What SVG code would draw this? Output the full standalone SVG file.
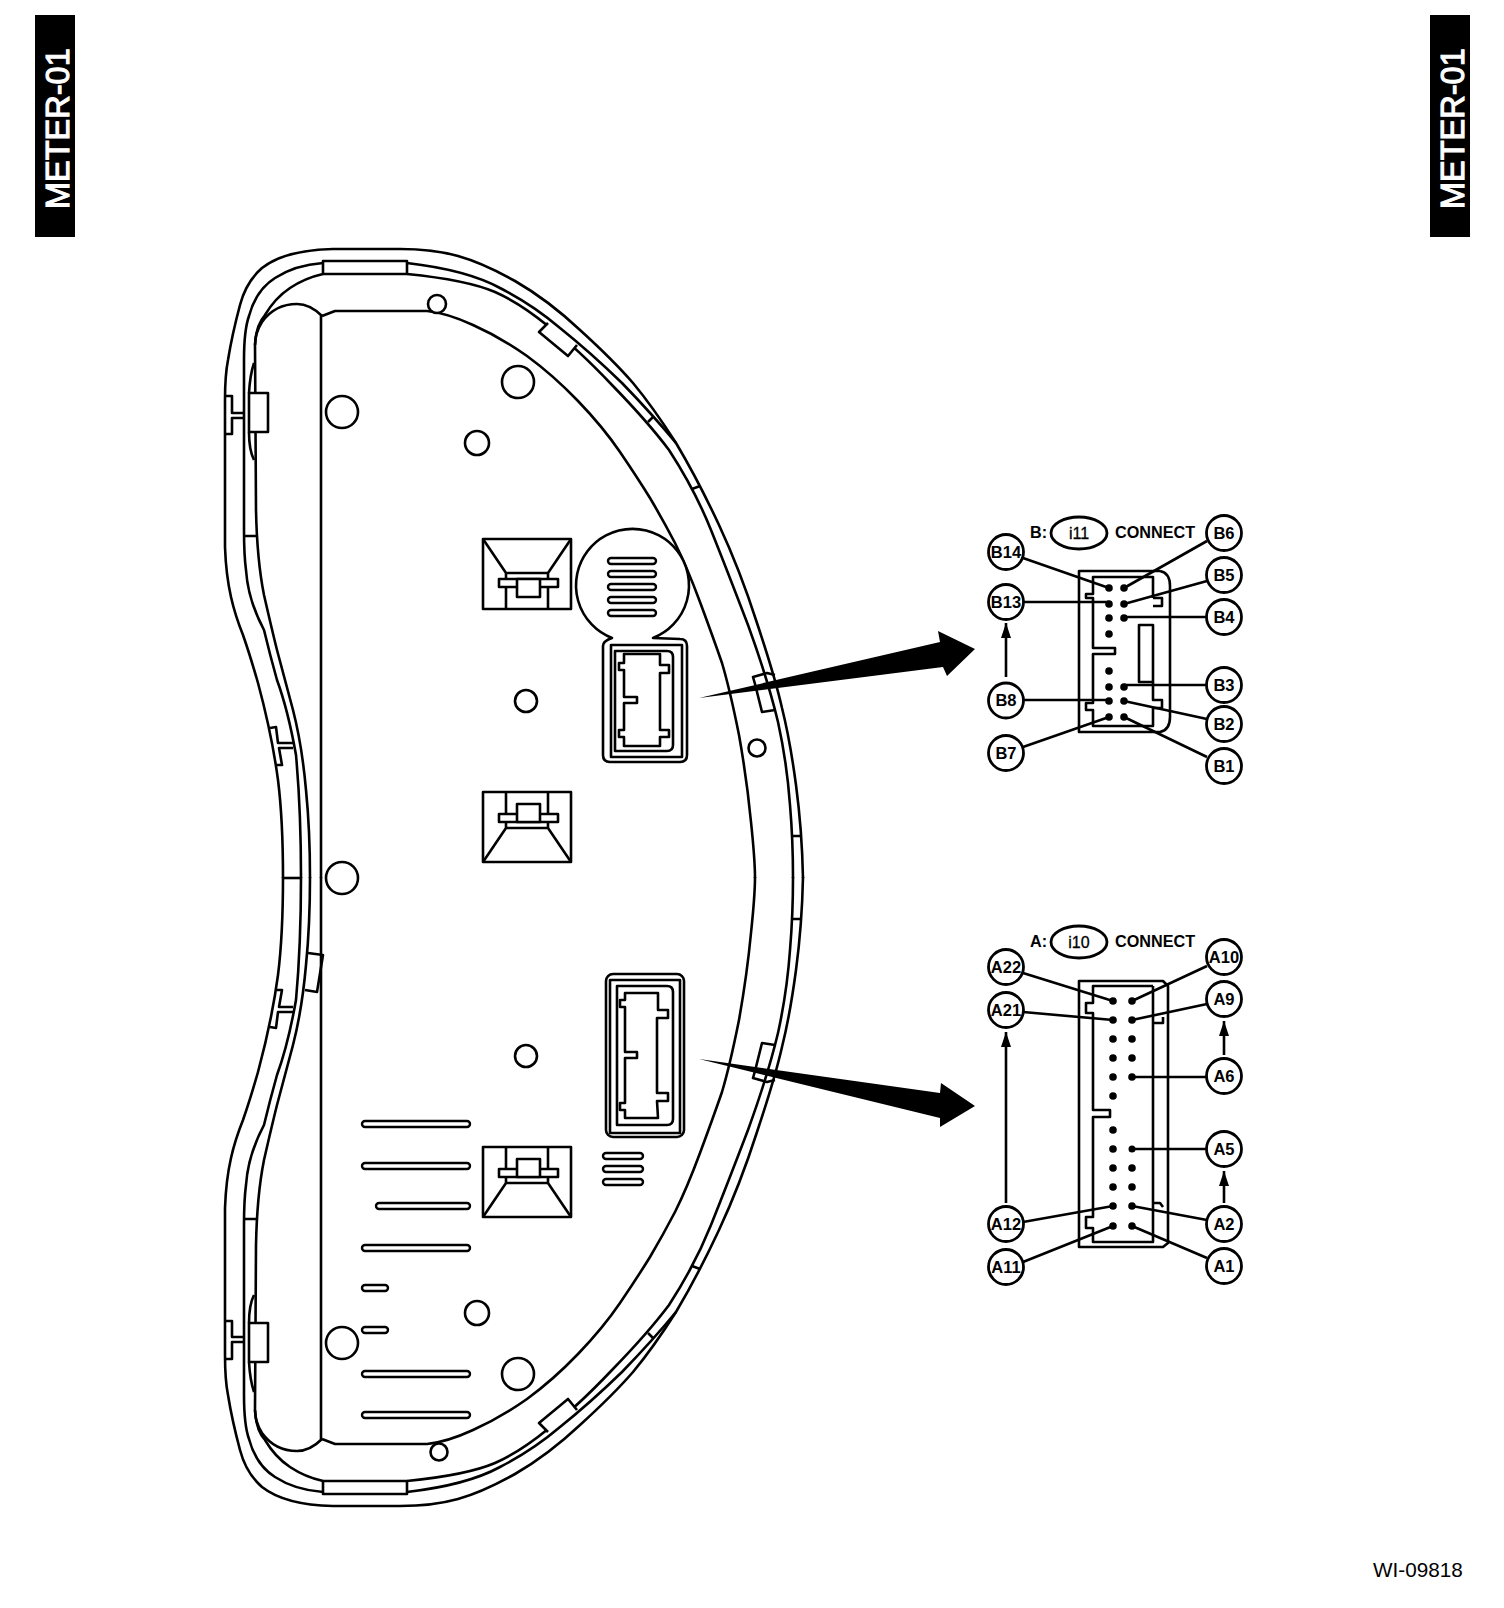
<svg xmlns="http://www.w3.org/2000/svg" xmlns:xlink="http://www.w3.org/1999/xlink" width="1504" height="1608" viewBox="0 0 1504 1608">
<style>
.l{fill:none;stroke:#000;stroke-width:2.6;stroke-linejoin:round}
.w{fill:#fff;stroke:#000;stroke-width:2.6;stroke-linejoin:round}
.t{fill:none;stroke:#000;stroke-width:2.6}
.p{fill:#000;stroke:none}
.c{fill:#fff;stroke:#000;stroke-width:2.8}
.n{font-family:"Liberation Sans",Arial,sans-serif;font-size:16.5px;font-weight:700;text-anchor:middle;fill:#000}
.h{font-family:"Liberation Sans",Arial,sans-serif;font-size:16.2px;font-weight:700;fill:#000}
.r{font-family:"Liberation Sans",Arial,sans-serif;font-size:16px;text-anchor:middle;fill:#000;stroke:#000;stroke-width:.3}
.m{font-family:"Liberation Sans",Arial,sans-serif;font-size:32.5px;fill:#fff;stroke:#fff;stroke-width:1.1}
.s{fill:#fff;stroke:#000;stroke-width:2.4}
</style>
<defs>
<marker id="ah" markerUnits="userSpaceOnUse" markerWidth="16" markerHeight="12" refX="15" refY="6" orient="auto"><path d="M0,1 L15,6 L0,11 Z" fill="#000"/></marker>
<g id="half">
<path class="l" d="M803,878 Q802,830 796,785 Q790,740 782,708 Q775,677 757,623 Q740,570 719,525 Q698,480 676,443 Q653,407 633,383 Q613,360 580,330 Q548,300 515,281 Q483,263 458,256 Q433,249 400,249 L333,249 Q285,250 262,268 Q246,282 240,305 Q232,335 228,360 Q225,375 225,400 L225,547 Q226,575 231,597 Q235,615 243,635 Q250,655 258,683 Q272,735 278,780 Q283,820 283,878"/>
<path class="l" d="M301,878 Q301,810 296,755 Q288,710 277,680 Q270,655 264,630 Q248,600 246,570 Q244,555 244,530 L244,360 Q244,330 249,316 Q256,290 275,278 Q295,265 323,263"/>
<path class="l" d="M407,263 Q467,270 500,288 Q533,305 560,328 Q590,352 622,383 Q653,415 676,443"/>
<path class="l" d="M310,878 Q310,830 306,790 Q302,745 293,710 Q285,680 277,650 Q272,630 264,595 Q257,560 256,510 L255,345 Q256,325 265,315 Q275,298 290,288 Q305,278 323,274"/>
<path class="l" d="M407,274 Q467,280 495,292 Q520,303 548,326 Q577,348 612,385 Q648,422 669,450 Q695,490 711,530 Q727,570 748,625 Q768,680 778,722 Q787,763 790,805 Q793,840 793,878"/>
<path class="l" d="M322,316 L335,311 L427,311 Q447,313 473,325 Q500,337 527,356 Q553,375 578,401 Q603,427 620,452 Q637,477 650,498 Q663,520 675,543 Q687,567 700,602 Q713,637 722,663 Q730,690 739,735 Q747,780 751,822 Q755,860 755,878"/>
<path class="l" d="M322,316 Q310,304 297,304 Q275,304 262,322 Q255,333 255,345"/>
<path class="l" d="M321,316 V878"/>
<rect class="w" x="323" y="261" width="84" height="13"/>
<path class="w" d="M548,323 L539,332 L568,356 L577,345"/>
<path class="l" d="M648,422 L653,417 M692,489 L700,486 M244,536 H256 M792,836 H801"/>
<path class="l" d="M226,396 H232 V413 H244 M244,418 H232 V434 H226"/>
<rect class="w" x="249" y="393" width="19" height="39"/>
<path class="l" d="M254,363 Q250,375 249,393 M249,432 Q249,450 254,460"/>
<path class="l" d="M270,728 L276,727 L278,743 H293 M293,748 H279 L282,765 H277"/>
<path class="l" d="M775,675 L767,673 L753,677 L755,684 L762,712 L775,710"/>
</g>
<g id="mount">
<rect class="l" x="483" y="539" width="88" height="70"/>
<path class="l" d="M483,539 L506,573 V609 M571,539 L548,573 V609 M506,573 H548"/>
<rect class="w" x="499" y="579" width="59" height="8"/>
<rect class="w" x="517" y="579" width="23" height="18"/>
</g>
</defs>
<rect width="1504" height="1608" fill="#fff"/>

<g id="tab-left"><rect x="35" y="15" width="40" height="222" fill="#000"/><text class="m" transform="translate(69,209) rotate(-90)">METER-01</text></g>
<g id="tab-right"><rect x="1430" y="15" width="40" height="222" fill="#000"/><text class="m" transform="translate(1464,209) rotate(-90)">METER-01</text></g>

<g id="meter-body">
<use xlink:href="#half" href="#half"/>
<use xlink:href="#half" href="#half" transform="translate(0,1755) scale(1,-1)"/>
<path class="l" d="M283,878 H301"/>
<path class="l" d="M308,953 L323,955 L317,992 L305,990"/>
<circle class="w" cx="437" cy="304" r="9"/>
<circle class="w" cx="439" cy="1452" r="8.5"/>
<circle class="l" cx="757" cy="748" r="8.5"/>
<circle class="l" cx="342" cy="412" r="16"/>
<circle class="l" cx="518" cy="382" r="16"/>
<circle class="l" cx="477" cy="443" r="12"/>
<circle class="l" cx="342" cy="1343" r="16"/>
<circle class="l" cx="518" cy="1374" r="16"/>
<circle class="l" cx="477" cy="1313" r="12"/>
<circle class="l" cx="342" cy="878" r="16"/>
<circle class="l" cx="526" cy="701" r="11"/>
<circle class="l" cx="526" cy="1056" r="11"/>
<use xlink:href="#mount" href="#mount"/>
<use xlink:href="#mount" href="#mount" transform="translate(0,1401) scale(1,-1)"/>
<use xlink:href="#mount" href="#mount" transform="translate(0,1756) scale(1,-1)"/>
</g>

<g id="socket-b-view">
<path class="w" d="M612,638 A56.5,56.5 0 1 1 653,638 L680,639 Q687,639 687,646 V755 Q687,762 680,762 H610 Q603,762 603,755 V646 Q603,641 612,638 Z"/>
<rect class="s" x="608" y="558" width="48" height="6" rx="3"/>
<rect class="s" x="608" y="571" width="48" height="6" rx="3"/>
<rect class="s" x="608" y="584" width="48" height="6" rx="3"/>
<rect class="s" x="608" y="597" width="48" height="6" rx="3"/>
<rect class="s" x="608" y="610" width="48" height="6" rx="3"/>
<rect class="l" x="611" y="645" width="71" height="112"/>
<path class="l" d="M615,651 H667 Q673,651 673,657 V745 Q673,751 667,751 H615 Z"/>
<path class="l" d="M624,654 H660 V665 H669 V673 H660 V730 H669 V737 H660 V746 H624 V737 H619 V730 H624 V703 H637 V697 H624 V670 H619 V663 H624 Z"/>
</g>
<g id="socket-a-view">
<rect class="l" x="606" y="974" width="78" height="163" rx="7"/>
<rect class="l" x="610" y="980" width="70" height="153"/>
<path class="l" d="M617,986 H667 Q673,986 673,992 V1119 Q673,1125 667,1125 H617 Z"/>
<path class="l" d="M625,993 H658 V1010 H668 V1018 H657 V1093 H668 V1101 H657 L658,1118 H625 V1110 H620 V1103 H625 V1058 H637 V1052 H625 V1007 H620 V1000 H625 Z"/>
<rect class="s" x="603" y="1153" width="40" height="6" rx="3"/>
<rect class="s" x="603" y="1166" width="40" height="6" rx="3"/>
<rect class="s" x="603" y="1179" width="40" height="6" rx="3"/>
</g>
<g id="slots">
<rect class="s" x="362" y="1121" width="108" height="6" rx="3"/>
<rect class="s" x="362" y="1163" width="108" height="6" rx="3"/>
<rect class="s" x="376" y="1203" width="94" height="6" rx="3"/>
<rect class="s" x="362" y="1245" width="108" height="6" rx="3"/>
<rect class="s" x="362" y="1285" width="26" height="6" rx="3"/>
<rect class="s" x="362" y="1327" width="26" height="6" rx="3"/>
<rect class="s" x="362" y="1371" width="108" height="6" rx="3"/>
<rect class="s" x="362" y="1412" width="108" height="6" rx="3"/>
</g>

<g id="connector-b-body">
<path class="l" d="M1160,571 H1079 V732 H1160 Q1170,730 1170,717 V586 Q1170,573 1160,571"/>
<path class="l" d="M1153,598 V577 H1093 V594 H1086 V598 H1093 V648 H1115 V654 H1093 V703 H1086 V710 H1093 V726 H1153 V708 H1162 V700 H1153 V682"/>
<path class="l" d="M1153,598 H1162 V606 H1153"/>
<rect class="l" x="1139" y="625" width="14" height="57"/>
</g>
<g id="connector-a-body">
<path class="l" d="M1163,981 H1079 V1247 H1163 L1168,1243 V986 Z"/>
<path class="l" d="M1153,986 H1093 V1003 H1086 V1013 H1093 V1110 H1110 V1117 H1093 V1217 H1086 V1228 H1093 V1242 H1153 V986"/>
<path class="l" d="M1153,1023 H1163 V1017 M1153,1203 H1160 L1163,1207"/>
</g>

<g id="connectors">
<polygon class="p" points="699,698 940,642 938,631 975,649 947,676 943,667"/>
<polygon class="p" points="699,1059 940,1093 941,1083 975,1106 940,1127 940,1118"/>
<g class="t">
<path d="M1023,558 L1109,588 M1023,602 H1109 M1023,700 H1109 M1023,747 L1109,717"/>
<path d="M1207,541 L1124,588 M1207,581 L1124,604 M1207,617 H1124 M1207,685 H1124 M1207,719 L1124,701 M1207,757 L1124,717"/>
<path d="M1023,973 L1113,1001 M1023,1012 L1113,1020 M1023,1222 L1113,1206 M1023,1262 L1113,1226"/>
<path d="M1207,966 L1132,1001 M1207,1004 L1132,1020 M1207,1077 H1132 M1207,1149 H1132 M1207,1220 L1132,1206 M1207,1258 L1132,1226"/>
<path d="M1006,677 V623" marker-end="url(#ah)"/>
<path d="M1006,1203 V1032" marker-end="url(#ah)"/>
<path d="M1224,1055 V1021" marker-end="url(#ah)"/>
<path d="M1224,1203 V1171" marker-end="url(#ah)"/>
</g>
</g>

<g id="pins-b" class="p">
<circle cx="1109" cy="588" r="3.8"/><circle cx="1109" cy="604" r="3.8"/><circle cx="1109" cy="618" r="3.8"/><circle cx="1109" cy="634" r="3.8"/><circle cx="1109" cy="671" r="3.8"/><circle cx="1109" cy="687" r="3.8"/><circle cx="1109" cy="701" r="3.8"/><circle cx="1109" cy="717" r="3.8"/>
<circle cx="1124" cy="588" r="3.8"/><circle cx="1124" cy="604" r="3.8"/><circle cx="1124" cy="618" r="3.8"/><circle cx="1124" cy="687" r="3.8"/><circle cx="1124" cy="701" r="3.8"/><circle cx="1124" cy="717" r="3.8"/>
</g>
<g id="pins-a" class="p">
<circle cx="1113" cy="1001" r="3.8"/><circle cx="1113" cy="1020" r="3.8"/><circle cx="1113" cy="1039" r="3.8"/><circle cx="1113" cy="1058" r="3.8"/><circle cx="1113" cy="1077" r="3.8"/><circle cx="1113" cy="1096" r="3.8"/><circle cx="1113" cy="1130" r="3.8"/><circle cx="1113" cy="1149" r="3.8"/><circle cx="1113" cy="1168" r="3.8"/><circle cx="1113" cy="1187" r="3.8"/><circle cx="1113" cy="1206" r="3.8"/><circle cx="1113" cy="1226" r="3.8"/>
<circle cx="1132" cy="1001" r="3.8"/><circle cx="1132" cy="1020" r="3.8"/><circle cx="1132" cy="1039" r="3.8"/><circle cx="1132" cy="1058" r="3.8"/><circle cx="1132" cy="1077" r="3.8"/><circle cx="1132" cy="1149" r="3.5"/><circle cx="1132" cy="1168" r="3.8"/><circle cx="1132" cy="1187" r="3.8"/><circle cx="1132" cy="1206" r="3.8"/><circle cx="1132" cy="1226" r="3.8"/>
</g>

<g id="header-b"><text class="h" x="1030" y="538">B:</text><ellipse class="c" cx="1079" cy="533" rx="28" ry="16"/><text class="r" x="1079" y="538.500">i11</text><text class="h" x="1115" y="538">CONNECT</text></g>
<g id="header-a"><text class="h" x="1030" y="947">A:</text><ellipse class="c" cx="1079" cy="942" rx="28" ry="16"/><text class="r" x="1079" y="947.500">i10</text><text class="h" x="1115" y="947">CONNECT</text></g>

<g id="B14"><circle class="c" cx="1006" cy="552" r="17.5"/><text class="n" x="1006" y="557.500">B14</text></g>
<g id="B13"><circle class="c" cx="1006" cy="602" r="17.5"/><text class="n" x="1006" y="607.500">B13</text></g>
<g id="B8"><circle class="c" cx="1006" cy="700.500" r="17.5"/><text class="n" x="1006" y="706">B8</text></g>
<g id="B7"><circle class="c" cx="1006" cy="753" r="17.5"/><text class="n" x="1006" y="758.500">B7</text></g>
<g id="B6"><circle class="c" cx="1224" cy="533" r="17.5"/><text class="n" x="1224" y="538.500">B6</text></g>
<g id="B5"><circle class="c" cx="1224" cy="575" r="17.5"/><text class="n" x="1224" y="580.500">B5</text></g>
<g id="B4"><circle class="c" cx="1224" cy="617" r="17.5"/><text class="n" x="1224" y="622.500">B4</text></g>
<g id="B3"><circle class="c" cx="1224" cy="685" r="17.5"/><text class="n" x="1224" y="690.500">B3</text></g>
<g id="B2"><circle class="c" cx="1224" cy="724" r="17.5"/><text class="n" x="1224" y="729.500">B2</text></g>
<g id="B1"><circle class="c" cx="1224" cy="766" r="17.5"/><text class="n" x="1224" y="771.500">B1</text></g>

<g id="A22"><circle class="c" cx="1006" cy="967" r="17.5"/><text class="n" x="1006" y="972.500">A22</text></g>
<g id="A21"><circle class="c" cx="1006" cy="1010" r="17.5"/><text class="n" x="1006" y="1015.500">A21</text></g>
<g id="A12"><circle class="c" cx="1006" cy="1224" r="17.5"/><text class="n" x="1006" y="1229.500">A12</text></g>
<g id="A11"><circle class="c" cx="1006" cy="1267" r="17.5"/><text class="n" x="1006" y="1272.500">A11</text></g>
<g id="A10"><circle class="c" cx="1224" cy="957" r="17.5"/><text class="n" x="1224" y="962.500">A10</text></g>
<g id="A9"><circle class="c" cx="1224" cy="999" r="17.5"/><text class="n" x="1224" y="1004.500">A9</text></g>
<g id="A6"><circle class="c" cx="1224" cy="1076" r="17.5"/><text class="n" x="1224" y="1081.500">A6</text></g>
<g id="A5"><circle class="c" cx="1224" cy="1149" r="17.5"/><text class="n" x="1224" y="1154.500">A5</text></g>
<g id="A2"><circle class="c" cx="1224" cy="1224" r="17.5"/><text class="n" x="1224" y="1229.500">A2</text></g>
<g id="A1"><circle class="c" cx="1224" cy="1266" r="17.5"/><text class="n" x="1224" y="1271.500">A1</text></g>

<text id="ref" x="1373" y="1577" font-family="Liberation Sans, Arial, sans-serif" font-size="20.700" fill="#000">WI-09818</text>
</svg>
